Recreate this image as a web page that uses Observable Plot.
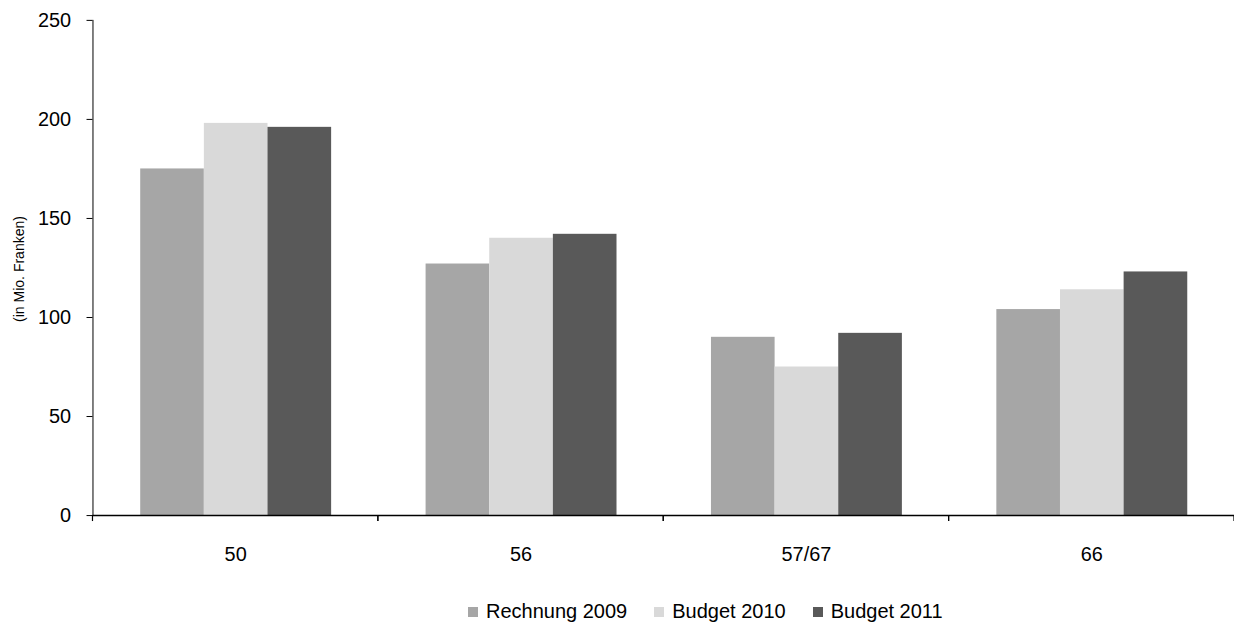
<!DOCTYPE html>
<html>
<head>
<meta charset="utf-8">
<script src="https://cdn.jsdelivr.net/npm/d3@7"></script>
<script src="https://cdn.jsdelivr.net/npm/@observablehq/plot@0.6"></script>
<style>
  html, body { margin: 0; padding: 0; background: #fff; overflow: hidden; width: 1234px; height: 623px; }
  #chart svg { display: block; }
  #legend { position: absolute; left: 468px; top: 600px; display: flex; align-items: center;
            font-family: "Liberation Sans", Arial, Helvetica, sans-serif; font-size: 20px; color: #000; white-space: nowrap; }
  #legend .item { display: flex; align-items: center; margin-right: 27px; }
  #legend .sw { width: 10px; height: 10px; margin-right: 8px; }
  #ylabel { position: absolute; left: 19px; top: 269px; transform: translate(-50%, -50%) rotate(-90deg);
            font-family: "Liberation Sans", Arial, Helvetica, sans-serif; font-size: 14px; color: #000; white-space: nowrap; }
</style>
</head>
<body>
<div id="chart"></div>
<div id="ylabel"></div>
<div id="legend"></div>
<script>
const categories = ["50", "56", "57/67", "66"];
const seriesNames = ["Rechnung 2009", "Budget 2010", "Budget 2011"];
const seriesColors = ["#a6a6a6", "#d9d9d9", "#595959"];
const rechnung2009 = [175, 127, 90, 104];
const budget2010 = [198, 140, 75, 114];
const budget2011 = [196, 142, 92, 123];
const yTicks = [0, 50, 100, 150, 200, 250];
const yLabel = "(in Mio. Franken)";

const seriesValues = [rechnung2009, budget2010, budget2011];
const data = [];
categories.forEach((c, i) => {
  seriesNames.forEach((s, j) => data.push({category: c, series: s, value: seriesValues[j][i]}));
});

function boundaryTicks(index, scales, values, dimensions) {
  const {marginLeft, width, marginRight} = dimensions;
  const y0 = scales.y(0);
  const g = d3.create("svg:g").attr("stroke", "black").attr("stroke-width", 1.2);
  for (const x of [marginLeft, width - marginRight]) {
    g.append("line").attr("x1", x).attr("x2", x).attr("y1", y0).attr("y2", y0 + 6);
  }
  return g.node();
}

const chart = Plot.plot({
  width: 1241,
  height: 580,
  marginTop: 20,
  marginBottom: 62,
  marginLeft: 92,
  marginRight: 0,
  style: {fontFamily: "\"Liberation Sans\", Arial, Helvetica, sans-serif", fontSize: "20px", color: "#000", background: "#fff"},
  fx: {domain: categories, padding: 0, axis: "bottom", tickSize: 0, tickPadding: 31, label: null},
  x: {domain: seriesNames, paddingInner: 0, paddingOuter: 0.74, axis: null},
  y: {domain: [0, 250], ticks: yTicks, tickSize: 6, tickPadding: 16, line: true, label: null},
  color: {domain: seriesNames, range: seriesColors},
  marks: [
    Plot.barY(data, {fx: "category", x: "series", y: "value", fill: "series"}),
    Plot.ruleY([0], {stroke: "black", strokeWidth: 1.5}),
    boundaryTicks
  ]
});
document.getElementById("chart").appendChild(chart);
document.getElementById("ylabel").textContent = yLabel;

const legend = document.getElementById("legend");
seriesNames.forEach((s, j) => {
  const item = document.createElement("div");
  item.className = "item";
  const sw = document.createElement("span");
  sw.className = "sw";
  sw.style.background = seriesColors[j];
  const t = document.createElement("span");
  t.textContent = s;
  item.appendChild(sw);
  item.appendChild(t);
  legend.appendChild(item);
});
</script>
</body>
</html>
